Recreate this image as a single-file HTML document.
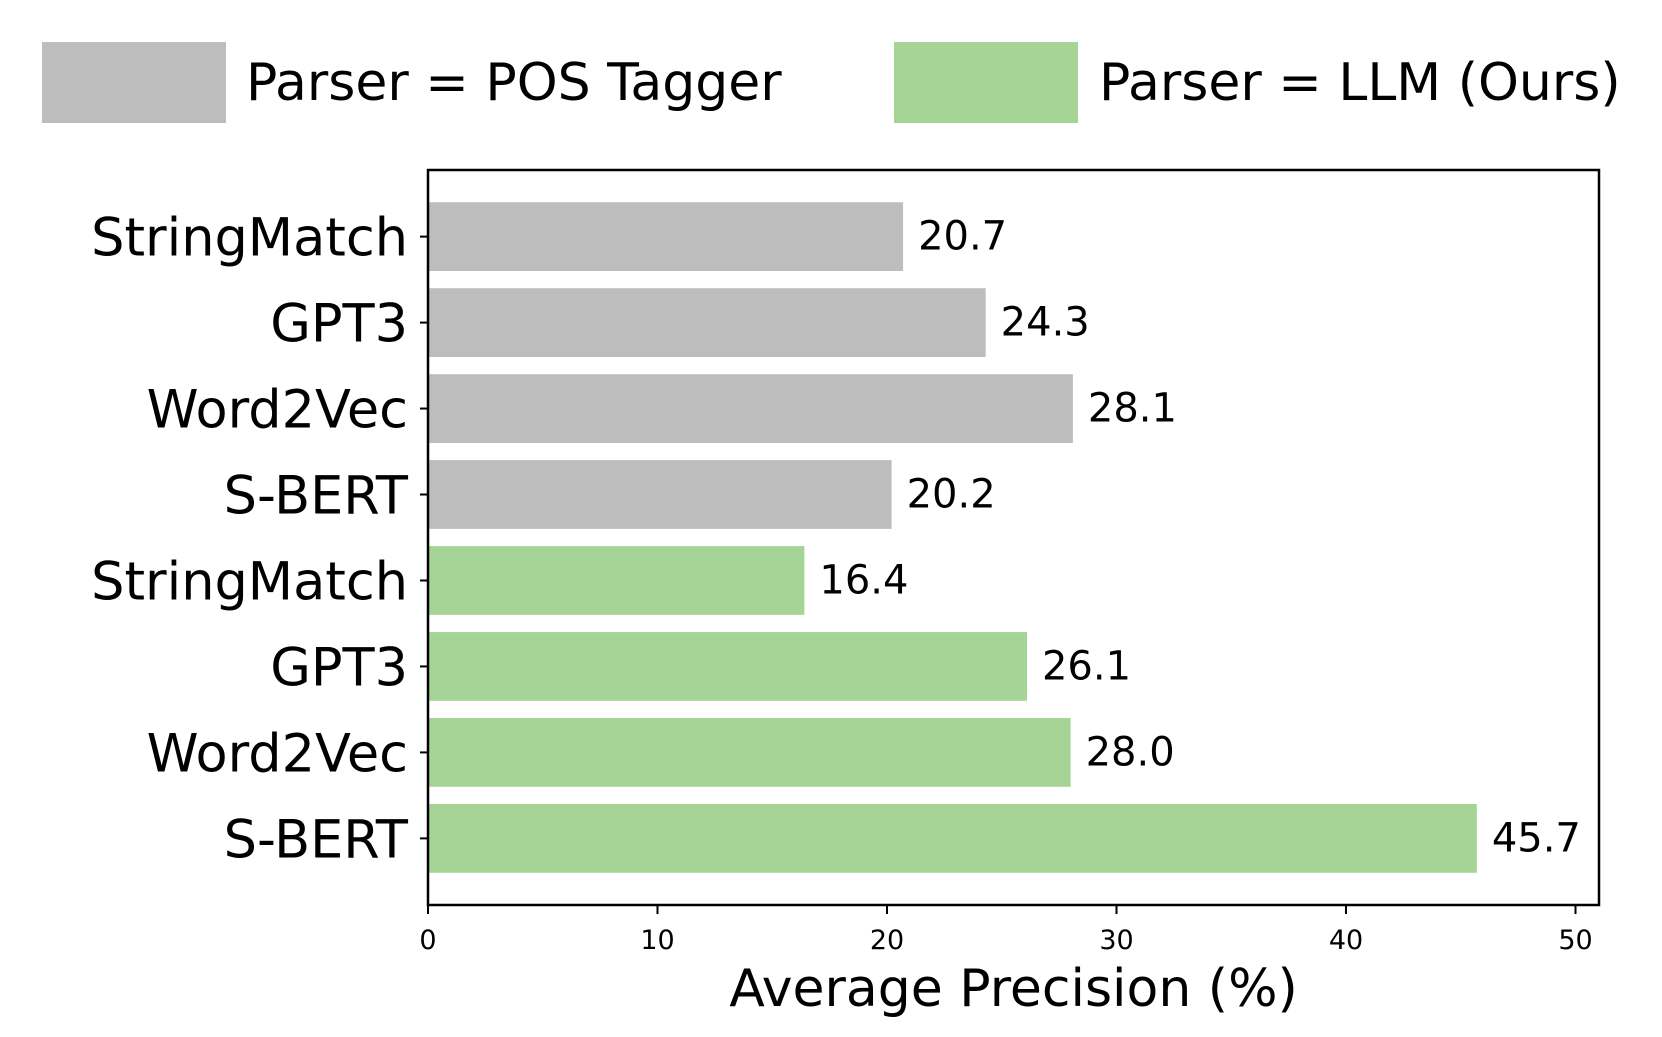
<!DOCTYPE html>
<html><head><meta charset="utf-8"><style>
html,body{margin:0;padding:0;background:#fff;}
svg{display:block;font-family:"DejaVu Sans","Liberation Sans",sans-serif;}
</style></head><body>
<svg id="chart" width="1662" height="1037" viewBox="0 0 1662 1037" xmlns="http://www.w3.org/2000/svg">
<g>
  <rect x="42" y="42" width="184" height="81" fill="#bdbdbd"/>
  <text x="246" y="100" font-size="52">Parser = POS Tagger</text>
  <rect x="894" y="42" width="184" height="81" fill="#a6d496"/>
  <text x="1099" y="100" font-size="52">Parser = LLM (Ours)</text>
</g>
<g id="bars"></g>
<g id="axes"></g>
</svg>
<script>
const categories = ["StringMatch","GPT3","Word2Vec","S-BERT","StringMatch","GPT3","Word2Vec","S-BERT"];
const values = [20.7,24.3,28.1,20.2,16.4,26.1,28.0,45.7];
const groups = ["pos","pos","pos","pos","llm","llm","llm","llm"];
const xTicks = [0,10,20,30,40,50];
const colors = {pos:"#bdbdbd", llm:"#a6d496"};
const NS="http://www.w3.org/2000/svg";
const L=428,R=1599,T=170,B=905;
const xScale=v=>L+v*22.95;
const ymin=-0.775, ymax=7.775;
const yScale=i=>T+(i-ymin)/(ymax-ymin)*(B-T);
const band=(B-T)/(ymax-ymin);
function mk(tag,attrs,parent){const e=document.createElementNS(NS,tag);for(const k in attrs)e.setAttribute(k,attrs[k]);parent.appendChild(e);return e;}
const gb=document.getElementById('bars'), ga=document.getElementById('axes');
values.forEach((v,i)=>{
  const cy=yScale(i);
  const r=mk('rect',{x:L,y:cy-0.4*band,width:xScale(v)-L,height:0.8*band,fill:colors[groups[i]]},gb);
  
  
  const t=mk('text',{x:xScale(v)+15,y:cy+13,'font-size':40},gb);
  t.textContent=v.toFixed(1);
  
  
  const tk=mk('line',{x1:L-8,x2:L,y1:cy,y2:cy,stroke:'#000','stroke-width':2},ga);
  
  
  const yl=mk('text',{x:L-20,y:cy+19,'font-size':52.5,'text-anchor':'end'},ga);
  yl.textContent=categories[i];
  
  
});
xTicks.forEach(v=>{
  const x=xScale(v);
  const tk=mk('line',{x1:x,x2:x,y1:B,y2:B+9,stroke:'#000','stroke-width':2},ga);
  
  
  const tl=mk('text',{x:x,y:B+44,'font-size':27,'text-anchor':'middle'},ga);
  tl.textContent=v;
  
  
});
const frame=mk('rect',{x:L,y:T,width:R-L,height:B-T,fill:'none',stroke:'#000','stroke-width':2.5},ga);


const xt=mk('text',{x:(L+R)/2,y:1006,'font-size':52,'text-anchor':'middle'},ga);
xt.textContent='Average Precision (%)';


</script>
</body></html>
